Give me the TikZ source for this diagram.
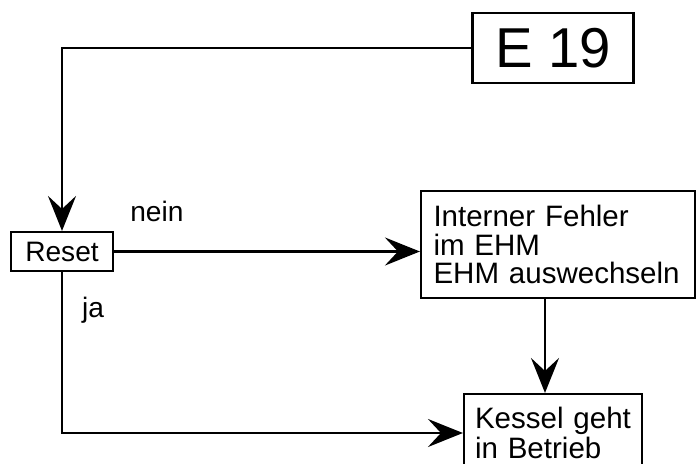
\documentclass[tikz,border=0pt]{standalone}
\usepackage{fontspec}
\setmainfont{Liberation Sans}
\usetikzlibrary{arrows.meta, positioning}

\begin{document}
\begin{tikzpicture}[
    font=\fontsize{16}{16}\selectfont,
    box/.style={draw, line width=1.2pt, inner sep=0pt},
    textbox/.style={box, inner xsep=0.25cm, align=left},
    arr/.style={-{Stealth[length=7mm, width=5.6mm, inset=2.6mm]}, line width=1.3pt},
    elab/.style={font=\fontsize{16}{16}\selectfont, inner sep=0pt}
]
\clip (0,0) rectangle (13.94,9.26);

\node[box, minimum width=3.22cm, minimum height=1.4cm,
      font=\fontsize{32}{32}\selectfont] (e19) at (11.06, 8.30) {E 19};
\node[box, minimum width=2.04cm, minimum height=0.78cm] (reset) at (1.24, 4.23) {Reset};
\node[textbox, minimum width=5.48cm, minimum height=2.14cm, text width=4.98cm,
      font=\fontsize{16.8}{16}\selectfont] (intern) at (11.16, 4.37)
      {Interner Fehler\\im EHM\\EHM auswechseln};
\node[textbox, inner xsep=0.22cm, minimum width=3.56cm, minimum height=1.56cm,
      text width=3.12cm, font=\fontsize{16.8}{17}\selectfont] (kessel) at (11.06, 0.60)
      {Kessel geht\\in Betrieb};

% E 19 --> Reset
\draw[arr] (e19.west) -| (reset.north);

% Reset --> Interner Fehler (nein)
\draw[arr] (reset.east) -- node[elab, pos=0.14, above=0.58cm] (nein) {nein}
    (reset.east -| intern.west);

% Reset --> Kessel (ja)
\draw[arr] (reset.south) |- node[elab, pos=0.12, right=0.38cm] (ja) {ja}
    (kessel.west);

% Interner Fehler --> Kessel
\draw[arr] ([xshift=-0.16cm]kessel.north |- intern.south) -- ([xshift=-0.16cm]kessel.north);

\end{tikzpicture}
\end{document}
